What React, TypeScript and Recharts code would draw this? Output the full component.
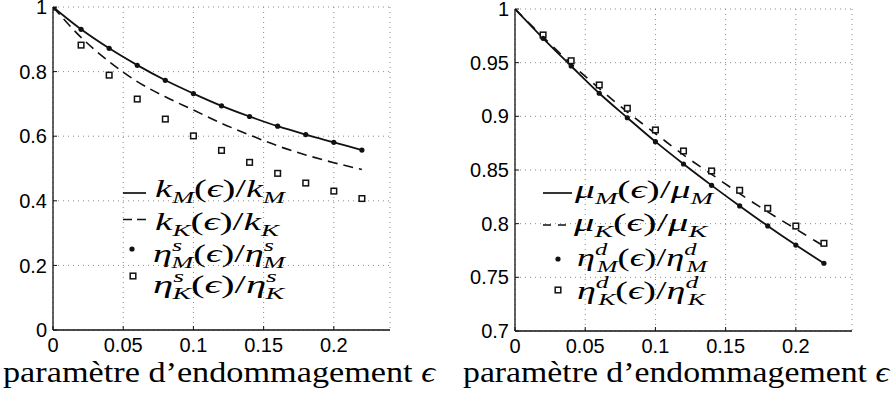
import React from 'react';
import { ComposedChart, Line, Scatter, XAxis, YAxis, CartesianGrid, Legend } from 'recharts';

// ---------- data ----------
const EPS = [0, 0.02, 0.04, 0.06, 0.08, 0.1, 0.12, 0.14, 0.16, 0.18, 0.2, 0.22];
const EPS_R = [0.02, 0.04, 0.06, 0.08, 0.1, 0.12, 0.14, 0.16, 0.18, 0.2, 0.22];

// left panel
const K_M_CURVE = [1, 0.931, 0.872, 0.82, 0.773, 0.732, 0.694, 0.661, 0.631, 0.605, 0.581, 0.557];
const K_K_CURVE = [1, 0.906, 0.831, 0.769, 0.722, 0.681, 0.64, 0.604, 0.57, 0.542, 0.518, 0.497];
const ETA_S_M = [1, 0.931, 0.872, 0.8195, 0.773, 0.732, 0.694, 0.661, 0.631, 0.605, 0.581, 0.557];
const ETA_S_K = [1, 0.882, 0.789, 0.715, 0.653, 0.601, 0.556, 0.519, 0.485, 0.455, 0.43, 0.407];

// right panel
const MU_M_CURVE = [1, 0.9727, 0.9469, 0.9215, 0.8987, 0.8764, 0.8556, 0.8357, 0.8165, 0.7979, 0.7801, 0.7631];
const MU_K_CURVE = [1, 0.974, 0.949, 0.926, 0.904, 0.884, 0.864, 0.846, 0.828, 0.811, 0.795, 0.779];
const ETA_D_M = [0.9727, 0.9469, 0.9215, 0.8987, 0.8764, 0.8556, 0.8357, 0.8165, 0.7979, 0.7801, 0.7631];
const ETA_D_K = [0.9758, 0.9518, 0.9292, 0.9075, 0.8873, 0.8677, 0.8491, 0.8311, 0.8143, 0.7978, 0.7817];

const X_TICKS = [0, 0.05, 0.1, 0.15, 0.2];
const LEFT_Y_TICKS = [0, 0.2, 0.4, 0.6, 0.8, 1];
const RIGHT_Y_TICKS = [0.7, 0.75, 0.8, 0.85, 0.9, 0.95, 1];
const X_LABEL = 'paramètre d’endommagement ';

// ---------- helpers ----------
const toPts = (xs: number[], ys: number[]) => ys.map((y, i) => ({ x: xs[i], y }));

const SANS = "'Liberation Sans', Arial, Helvetica, sans-serif";
const SERIF = "'Liberation Serif', 'Times New Roman', serif";

const DotShape = (p: any) => <circle cx={p.cx} cy={p.cy} r={2.6} fill="#111" />;
const SquareShape = (p: any) => (
  <rect x={p.cx - 2.8} y={p.cy - 2.8} width={5.6} height={5.6} fill="#fff" stroke="#111" strokeWidth={1.5} />
);
const Empty = () => <g />;

const tickStyle = { fontFamily: SANS, fontSize: 20, fill: '#000' };

const Sub = ({ children }: any) => (
  <tspan fontStyle="italic" fontSize={17} dy={6}>{children}</tspan>
);

// symbol with superscript + subscript (e.g. eta^s_M)
const SupSub = ({ base, sup, sub }: any) => (
  <>
    <tspan fontStyle="italic">{base}</tspan>
    <tspan fontStyle="italic" fontSize={17} dy={-11}>{sup}</tspan>
    <tspan fontStyle="italic" fontSize={17} dx={-7} dy={17}>{sub}</tspan>
  </>
);

const XLabel = (cx: number, len: number) => () => (
  <text x={cx} y={382} textAnchor="middle" fontFamily={SERIF} fontSize={30} fill="#000" textLength={len} lengthAdjust="spacingAndGlyphs">
    {X_LABEL}
    <tspan fontStyle="italic">ϵ</tspan>
  </text>
);

// ---------- legends ----------
const LeftLegend = () => (
  <svg width={440} height={401} style={{ position: 'absolute', left: 0, top: 0 }}>
    <line x1={123} x2={146} y1={193} y2={193} stroke="#111" strokeWidth={1.7} />
    <text x={155} y={197} fontFamily={SERIF} fontSize={25} fill="#000" textLength={130} lengthAdjust="spacingAndGlyphs">
      <tspan fontStyle="italic">k</tspan><Sub>M</Sub><tspan dy={-6}>(</tspan><tspan fontStyle="italic">ϵ</tspan><tspan>)/</tspan><tspan fontStyle="italic">k</tspan><Sub>M</Sub>
    </text>
    <line x1={123} x2={146} y1={219.5} y2={219.5} stroke="#111" strokeWidth={1.7} strokeDasharray="9 5" />
    <text x={155} y={230} fontFamily={SERIF} fontSize={25} fill="#000" textLength={124} lengthAdjust="spacingAndGlyphs">
      <tspan fontStyle="italic">k</tspan><Sub>K</Sub><tspan dy={-6}>(</tspan><tspan fontStyle="italic">ϵ</tspan><tspan>)/</tspan><tspan fontStyle="italic">k</tspan><Sub>K</Sub>
    </text>
    <circle cx={132} cy={249} r={2.6} fill="#111" />
    <text x={153} y={262} fontFamily={SERIF} fontSize={25} fill="#000" textLength={132} lengthAdjust="spacingAndGlyphs">
      <SupSub base="η" sup="s" sub="M" /><tspan dy={-6}>(</tspan><tspan fontStyle="italic">ϵ</tspan><tspan>)/</tspan><SupSub base="η" sup="s" sub="M" />
    </text>
    <rect x={130.2} y={273.2} width={5.6} height={5.6} fill="#fff" stroke="#111" strokeWidth={1.5} />
    <text x={153} y={293} fontFamily={SERIF} fontSize={25} fill="#000" textLength={131} lengthAdjust="spacingAndGlyphs">
      <SupSub base="η" sup="s" sub="K" /><tspan dy={-6}>(</tspan><tspan fontStyle="italic">ϵ</tspan><tspan>)/</tspan><SupSub base="η" sup="s" sub="K" />
    </text>
  </svg>
);

const RightLegend = () => (
  <svg width={451} height={401} style={{ position: 'absolute', left: 0, top: 0 }}>
    <line x1={103} x2={132} y1={193} y2={193} stroke="#111" strokeWidth={1.7} />
    <text x={135} y={198} fontFamily={SERIF} fontSize={25} fill="#000" textLength={138} lengthAdjust="spacingAndGlyphs">
      <tspan fontStyle="italic">μ</tspan><Sub>M</Sub><tspan dy={-6}>(</tspan><tspan fontStyle="italic">ϵ</tspan><tspan>)/</tspan><tspan fontStyle="italic">μ</tspan><Sub>M</Sub>
    </text>
    <line x1={103} x2={132} y1={225} y2={225} stroke="#111" strokeWidth={1.7} strokeDasharray="8 7" />
    <text x={134} y={231} fontFamily={SERIF} fontSize={25} fill="#000" textLength={133} lengthAdjust="spacingAndGlyphs">
      <tspan fontStyle="italic">μ</tspan><Sub>K</Sub><tspan dy={-6}>(</tspan><tspan fontStyle="italic">ϵ</tspan><tspan>)/</tspan><tspan fontStyle="italic">μ</tspan><Sub>K</Sub>
    </text>
    <circle cx={118} cy={259} r={2.6} fill="#111" />
    <text x={137} y={266} fontFamily={SERIF} fontSize={25} fill="#000" textLength={130} lengthAdjust="spacingAndGlyphs">
      <SupSub base="η" sup="d" sub="M" /><tspan dy={-6}>(</tspan><tspan fontStyle="italic">ϵ</tspan><tspan>)/</tspan><SupSub base="η" sup="d" sub="M" />
    </text>
    <rect x={115.2} y={287.2} width={5.6} height={5.6} fill="#fff" stroke="#111" strokeWidth={1.5} />
    <text x={137} y={299} fontFamily={SERIF} fontSize={25} fill="#000" textLength={128} lengthAdjust="spacingAndGlyphs">
      <SupSub base="η" sup="d" sub="K" /><tspan dy={-6}>(</tspan><tspan fontStyle="italic">ϵ</tspan><tspan>)/</tspan><SupSub base="η" sup="d" sub="K" />
    </text>
  </svg>
);

// ---------- panel ----------
type PanelProps = {
  width: number;
  margin: any;
  yAxisWidth: number;
  xAxisHeight: number;
  yDomain: [number, number];
  yTicks: number[];
  solid: any[];
  dashed: any[];
  dots: any[];
  squares: any[];
  dash: string;
  legend: () => any;
  label: () => any;
};

const Panel = (p: PanelProps) => (
  <ComposedChart width={p.width} height={401} margin={p.margin}>
    <CartesianGrid stroke="#8a8a8a" strokeDasharray="1 4" />
    <XAxis
      dataKey="x"
      type="number"
      domain={[0, 0.24]}
      ticks={X_TICKS}
      interval={0}
      allowDataOverflow
      height={p.xAxisHeight}
      tickSize={-4}
      tickMargin={12}
      tick={tickStyle}
      axisLine={{ stroke: '#111', strokeWidth: 1.3 }}
      tickLine={{ stroke: '#111' }}
      label={p.label}
    />
    <XAxis
      xAxisId="top"
      orientation="top"
      type="number"
      domain={[0, 0.24]}
      ticks={X_TICKS}
      interval={0}
      allowDataOverflow
      height={0}
      tickSize={-4}
      tick={Empty}
      axisLine={{ stroke: '#111', strokeWidth: 1.3 }}
      tickLine={{ stroke: '#111' }}
    />
    <YAxis
      type="number"
      domain={p.yDomain}
      ticks={p.yTicks}
      interval={0}
      allowDataOverflow
      width={p.yAxisWidth}
      tickSize={-4}
      tickMargin={10}
      tick={tickStyle}
      tickFormatter={(v: number) => String(v)}
      axisLine={{ stroke: '#111', strokeWidth: 1.3 }}
      tickLine={{ stroke: '#111' }}
    />
    <YAxis
      yAxisId="right"
      orientation="right"
      type="number"
      domain={p.yDomain}
      ticks={p.yTicks}
      interval={0}
      allowDataOverflow
      width={0}
      tickSize={-4}
      tick={Empty}
      axisLine={{ stroke: '#111', strokeWidth: 1.3 }}
      tickLine={{ stroke: '#111' }}
    />
    <Line data={p.solid} dataKey="y" type="monotone" dot={false} stroke="#111" strokeWidth={1.8} isAnimationActive={false} />
    <Line data={p.dashed} dataKey="y" type="monotone" dot={false} stroke="#111" strokeWidth={1.6} strokeDasharray={p.dash} isAnimationActive={false} />
    <Scatter data={p.squares} dataKey="y" shape={SquareShape} isAnimationActive={false} />
    <Scatter data={p.dots} dataKey="y" shape={DotShape} isAnimationActive={false} />
    <Legend
      layout="vertical"
      align="center"
      verticalAlign="middle"
      content={p.legend}
      wrapperStyle={{ position: 'absolute', left: 0, top: 0, width: p.width, height: 401, pointerEvents: 'none' }}
    />
  </ComposedChart>
);

export default function App() {
  return (
    <div style={{ position: 'absolute', left: 0, top: 0, width: 891, height: 401, background: '#fff' }}>
      <div style={{ position: 'absolute', left: 0, top: 0 }}>
        <Panel
          width={440}
          margin={{ top: 7, right: 50, bottom: 0, left: 0 }}
          yAxisWidth={53}
          xAxisHeight={71}
          yDomain={[0, 1]}
          yTicks={LEFT_Y_TICKS}
          solid={toPts(EPS, K_M_CURVE)}
          dashed={toPts(EPS, K_K_CURVE)}
          dots={toPts(EPS, ETA_S_M)}
          squares={toPts(EPS, ETA_S_K)}
          dash="10 6"
          legend={LeftLegend}
          label={XLabel(219, 432)}
        />
      </div>
      <div style={{ position: 'absolute', left: 440, top: 0 }}>
        <Panel
          width={451}
          margin={{ top: 9, right: 39, bottom: 0, left: 0 }}
          yAxisWidth={75}
          xAxisHeight={70}
          yDomain={[0.7, 1]}
          yTicks={RIGHT_Y_TICKS}
          solid={toPts(EPS, MU_M_CURVE)}
          dashed={toPts(EPS, MU_K_CURVE)}
          dots={toPts(EPS_R, ETA_D_M)}
          squares={toPts(EPS_R, ETA_D_K)}
          dash="10 8"
          legend={RightLegend}
          label={XLabel(236, 426)}
        />
      </div>
    </div>
  );
}
